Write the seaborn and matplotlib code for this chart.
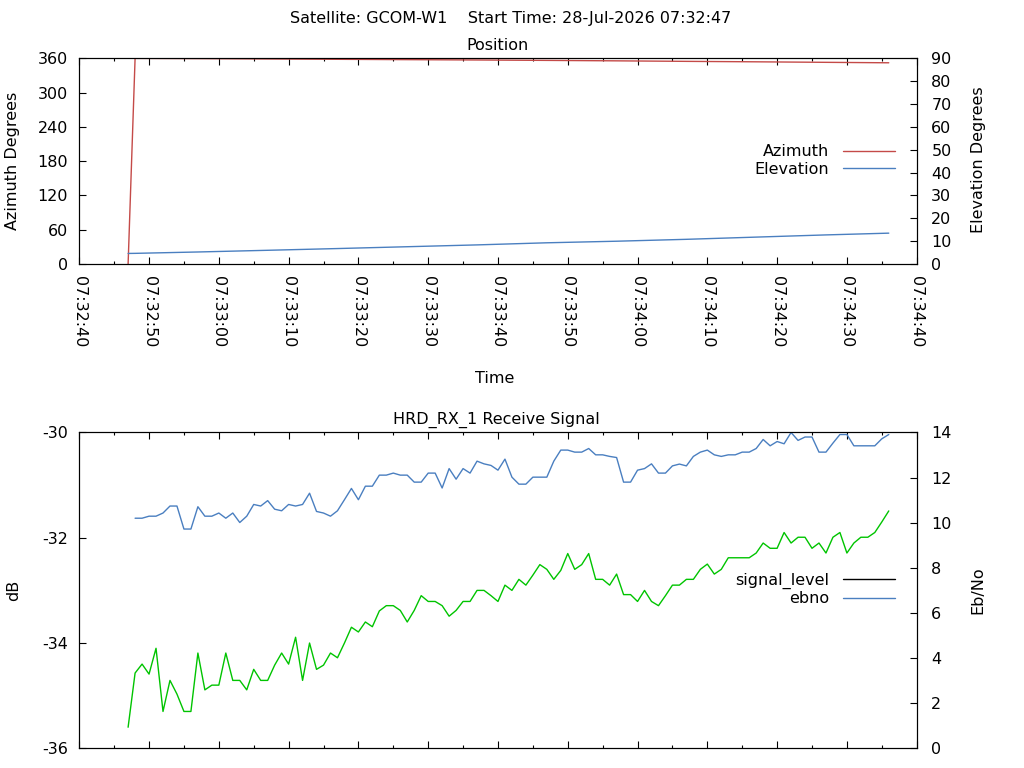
import pandas as pd
import seaborn as sns
import matplotlib
matplotlib.use("Agg")
import matplotlib.pyplot as plt
import matplotlib.dates as mdates
from matplotlib.lines import Line2D

# pass info
satellite = "GCOM-W1"
start_time = "28-Jul-2026 07:32:47"
day = "2026-07-28"

# position samples
pos_times = ["07:32:47", "07:32:48", "07:32:57", "07:33:07", "07:33:17", "07:33:27", "07:33:37",
             "07:33:47", "07:33:57", "07:34:07", "07:34:17", "07:34:27", "07:34:36"]
azimuth = [0.1, 359.9, 359.5, 358.9, 358.3, 357.7, 357.1, 356.4, 355.6, 354.7, 353.9, 353.0, 352.2]
elevation = [4.62, 4.66, 5.26, 6.0, 6.76, 7.56, 8.36, 9.28, 9.97, 10.8, 11.77, 12.73, 13.5]

# receive signal, one sample per second
signal_start = "07:32:47"
signal_level = [
    -35.60, -34.57, -34.40, -34.59, -34.10, -35.30, -34.71, -34.97, -35.30, -35.30,
    -34.19, -34.89, -34.80, -34.80, -34.19, -34.71, -34.71, -34.89, -34.50, -34.71,
    -34.71, -34.42, -34.19, -34.40, -33.89, -34.71, -34.00, -34.50, -34.42, -34.19,
    -34.28, -34.00, -33.70, -33.79, -33.60, -33.69, -33.39,
    -33.29, -33.29, -33.38, -33.60, -33.38, -33.10, -33.21, -33.21, -33.29, -33.49,
    -33.38, -33.21, -33.21, -33.00, -33.00, -33.10, -33.21, -32.90, -33.00, -32.79,
    -32.90, -32.71, -32.51, -32.60, -32.79, -32.62, -32.30, -32.60, -32.51, -32.30,
    -32.79, -32.79, -32.90, -32.69, -33.08, -33.08, -33.21, -33.00, -33.21, -33.29,
    -33.10,
    -32.90, -32.90, -32.79, -32.79, -32.60, -32.50, -32.69, -32.60, -32.38, -32.38,
    -32.38, -32.38, -32.29, -32.10, -32.20, -32.20, -31.90, -32.10, -31.99, -31.99,
    -32.20, -32.10, -32.29, -31.99, -31.90, -32.29, -32.10, -31.99, -31.99, -31.90,
    -31.70, -31.49]

ebno_start = "07:32:48"
ebno = [
    10.20, 10.20, 10.29, 10.29, 10.43, 10.74, 10.74, 9.72, 9.72, 10.71,
    10.29, 10.29, 10.43, 10.20, 10.43, 10.01, 10.29, 10.81, 10.74, 10.98,
    10.60, 10.53, 10.81, 10.74, 10.81, 11.31, 10.50, 10.43, 10.29, 10.53,
    11.02, 11.52, 11.02, 11.62, 11.62, 12.11,
    12.11, 12.20, 12.11, 12.11, 11.80, 11.80, 12.20, 12.20, 11.54, 12.40,
    11.93, 12.40, 12.20, 12.73, 12.61, 12.54, 12.33, 12.82, 12.02, 11.71,
    11.71, 12.02, 12.02, 12.02, 12.73, 13.22, 13.22, 13.13, 13.13, 13.29,
    13.01, 13.01, 12.94, 12.89, 11.80, 11.80, 12.33, 12.40, 12.61, 12.20, 12.20,
    12.52, 12.60, 12.52, 12.94, 13.13, 13.22, 13.01, 12.94, 13.01, 13.01,
    13.13, 13.13, 13.29, 13.69, 13.41, 13.60, 13.50, 14.00, 13.65, 13.80,
    13.80, 13.13, 13.13, 13.53, 13.91, 13.91, 13.41, 13.41, 13.41, 13.41,
    13.72, 13.91]

x_min = "07:32:40"
x_max = "07:34:40"

pos = pd.DataFrame({"time": pd.to_datetime([day + " " + t for t in pos_times]),
                    "azimuth": azimuth, "elevation": elevation})
sig = pd.DataFrame({"time": pd.date_range(day + " " + signal_start, periods=len(signal_level), freq="s"),
                    "signal_level": signal_level})
eb = pd.DataFrame({"time": pd.date_range(day + " " + ebno_start, periods=len(ebno), freq="s"),
                   "ebno": ebno})

sns.set_style("white")
plt.rcParams["font.family"] = ["DejaVu Sans"]
plt.rcParams["axes.unicode_minus"] = False
plt.rcParams["text.color"] = "black"
plt.rcParams["axes.labelcolor"] = "black"
fs = 11.5
red = "#c44a48"
blue = "#4a7fc0"
green = "#00c400"

fig = plt.figure(figsize=(10.24, 7.68), dpi=100)
ax1 = fig.add_axes([0.0774, 0.65625, 0.8178, 0.2678])
ax2 = fig.add_axes([0.0774, 0.02565, 0.8178, 0.4112])
ax1b = ax1.twinx()
ax2b = ax2.twinx()

sns.lineplot(data=pos, x="time", y="azimuth", ax=ax1, color=red, lw=1.0, estimator=None)
sns.lineplot(data=pos, x="time", y="elevation", ax=ax1b, color=blue, lw=1.0, estimator=None)
sns.lineplot(data=sig, x="time", y="signal_level", ax=ax2, color=green, lw=1.0, estimator=None)
sns.lineplot(data=eb, x="time", y="ebno", ax=ax2b, color=blue, lw=1.0, estimator=None)

xlo = pd.Timestamp(day + " " + x_min)
xhi = pd.Timestamp(day + " " + x_max)
for ax in [ax1, ax2]:
    ax.set_xlim(xlo, xhi)
    ax.xaxis.set_major_locator(mdates.SecondLocator(bysecond=range(0, 60, 10)))
    ax.xaxis.set_minor_locator(mdates.SecondLocator(bysecond=range(0, 60, 5)))
    ax.xaxis.set_major_formatter(mdates.DateFormatter("%H:%M:%S"))
    ax.set_xlabel("")

ax1.set_ylim(0, 360)
ax1.set_yticks(range(0, 361, 60))
ax1b.set_ylim(0, 90)
ax1b.set_yticks(range(0, 91, 10))
ax2.set_ylim(-36, -30)
ax2.set_yticks(range(-36, -29, 2))
ax2b.set_ylim(0, 14)
ax2b.set_yticks(range(0, 15, 2))

for ax in [ax1, ax2, ax1b, ax2b]:
    for s in ax.spines.values():
        s.set_color("black")
        s.set_linewidth(0.8)
    ax.set_ylabel("")
    ax.tick_params(which="major", direction="in", length=4.8, width=0.8, colors="black", labelsize=fs)
    ax.tick_params(which="minor", direction="in", length=2.5, width=0.8, colors="black")

for ax in [ax1, ax2]:
    ax.tick_params(axis="x", which="both", top=True, bottom=True)
    ax.tick_params(axis="y", left=True, right=False, pad=8)
for ax in [ax1b, ax2b]:
    ax.tick_params(axis="y", left=False, right=True, pad=10.5)

ax1.tick_params(axis="x", pad=9)
plt.setp(ax1.get_xticklabels(), rotation=-90, ha="center", va="top")
ax2.tick_params(axis="x", labelbottom=False)

# texts
fig.text(511 / 1024, 1 - 18 / 768, "Satellite: %s    Start Time: %s" % (satellite, start_time),
         ha="center", va="center", fontsize=fs)
fig.text(497 / 1024, 1 - 46 / 768, "Position", ha="center", va="center", fontsize=fs)
fig.text(496 / 1024, 1 - 420 / 768, "HRD_RX_1 Receive Signal", ha="center", va="center", fontsize=fs)
fig.text(495 / 1024, 1 - 379 / 768, "Time", ha="center", va="center", fontsize=fs)
fig.text(13 / 1024, 1 - 161 / 768, "Azimuth Degrees", rotation=90, ha="center", va="center", fontsize=fs)
fig.text(978 / 1024, 1 - 160 / 768, "Elevation Degrees", rotation=90, ha="center", va="center", fontsize=fs)
fig.text(14 / 1024, 1 - 590 / 768, "dB", rotation=90, ha="center", va="center", fontsize=fs)
fig.text(978 / 1024, 1 - 590 / 768, "Eb/No", rotation=90, ha="center", va="center", fontsize=fs)

leg_kw = dict(loc="center right", frameon=False, markerfirst=False, fontsize=fs,
              handlelength=3.25, handletextpad=0.85, labelspacing=0.15,
              borderpad=0, borderaxespad=0)
h1 = [Line2D([], [], color=red, lw=1.0), Line2D([], [], color=blue, lw=1.0)]
ax1b.legend(h1, ["Azimuth", "Elevation"], bbox_to_anchor=(0.974, 0.504), **leg_kw)
h2 = [Line2D([], [], color="black", lw=1.0), Line2D([], [], color=blue, lw=1.0)]
ax2b.legend(h2, ["signal_level", "ebno"], bbox_to_anchor=(0.974, 0.503), **leg_kw)

fig.savefig("out.png", dpi=100)
